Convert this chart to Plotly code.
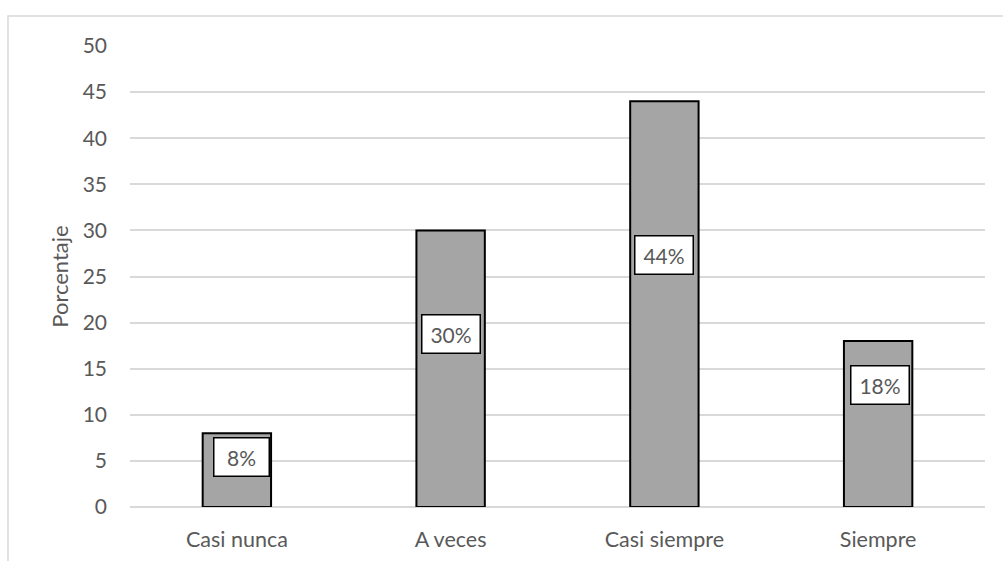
import plotly.graph_objects as go

categories = ["Casi nunca", "A veces", "Casi siempre", "Siempre"]
values = [8, 30, 44, 18]
labels = ["8%", "30%", "44%", "18%"]
label_y = [5.4, 18.8, 27.3, 13.2]
label_dx = [5, 0, 0, 2]
y_ticks = list(range(0, 51, 5))

font_family = "Lato, 'Open Sans', sans-serif"
text_color = "#595959"

fig = go.Figure()
fig.add_trace(go.Bar(
    x=categories, y=values, width=0.32,
    marker=dict(color="#A5A5A5", line=dict(color="black", width=2)),
    hoverinfo="skip", showlegend=False,
))

for c, lab, ly, dx in zip(categories, labels, label_y, label_dx):
    fig.add_annotation(
        x=c, y=ly, text=lab, showarrow=False, xshift=dx,
        font=dict(family=font_family, size=21, color=text_color),
        bgcolor="white", bordercolor="black", borderwidth=1.5,
        width=52 if len(lab) == 2 else 55, height=35, align="center", valign="middle",
    )

fig.add_shape(type="rect", xref="paper", yref="paper",
              x0=-0.1427, x1=1.05, y0=-0.2, y1=1.065,
              line=dict(color="#D9D9D9", width=1.5), fillcolor="rgba(0,0,0,0)",
              layer="below")

fig.update_layout(
    width=1003, height=561,
    margin=dict(l=130, r=18, t=46, b=54),
    paper_bgcolor="white", plot_bgcolor="white",
    font=dict(family=font_family, size=21, color=text_color),
    bargap=0.68,
)
fig.update_xaxes(
    showgrid=False, zeroline=False, showline=False, ticks="", automargin=False,
    tickfont=dict(size=21.5, color=text_color), ticklabelstandoff=17,
)
fig.update_yaxes(
    range=[0, 50], tickvals=y_ticks, showgrid=True, gridcolor="#D9D9D9", gridwidth=1.5,
    zeroline=True, zerolinecolor="#D9D9D9", zerolinewidth=1.5, showline=False, ticks="",
    automargin=False,
    tickfont=dict(size=21, color=text_color), ticklabelstandoff=22,
    title=dict(text="Porcentaje", font=dict(size=22, color=text_color), standoff=7),
)

fig.write_html("out.html")
